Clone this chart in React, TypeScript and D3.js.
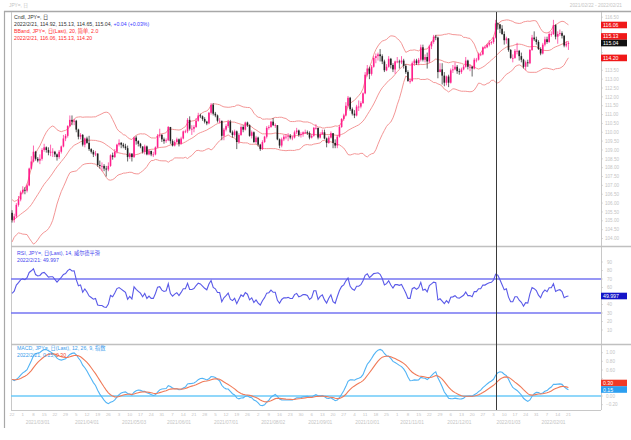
import React from "react";
import * as d3 from "d3";

// ---- data (USD/JPY daily) ----
// closes before the first visible bar, used only to warm up the indicators
const priorCloses = [
  104.7, 104.5, 104.5, 103.5, 103.4, 105.3, 105.3, 105.4, 105.1, 104.6, 104.6, 104.2, 103.8, 103.8, 103.8,
  104.6, 104.5, 104.4, 104.3, 104.1, 104.3,
  104.3, 104.4, 103.9, 104.2, 104.0, 104.2, 104.2, 104.2, 104.0, 104.0, 103.7, 103.5, 103.1, 103.3, 103.3,
  103.6, 103.6, 103.6, 103.6, 103.8, 103.5, 103.2, 103.2,
  103.1, 102.7, 103.0, 103.8, 103.9, 104.2, 103.8, 103.9, 103.9, 103.9, 103.7, 103.9, 103.5, 103.5, 103.8,
  103.8, 103.6, 104.1, 104.2, 104.7,
  104.9, 105.0, 105.0, 105.6, 105.4, 105.2, 104.6, 104.6, 104.7, 104.9, 105.4, 106.0, 105.9, 105.7, 105.45,
];

const closes = [
  105.05, 105.25, 105.9, 106.2, 106.6,
  106.75, 106.7, 107.0, 107.95, 108.35, 108.9, 108.5, 108.4, 108.5, 109.0, 109.15, 109.0, 108.85, 108.9, 108.9,
  108.75, 108.6, 108.9, 109.2, 109.65, 109.8, 110.35, 110.7,
  110.6, 110.65, 110.15, 109.75, 109.85, 109.3, 109.65, 109.4, 109.05, 108.9, 108.75, 108.8, 108.15, 108.1,
  108.1, 107.95, 107.9, 108.1, 108.7, 108.6, 108.9, 109.3,
  109.4, 109.3, 109.2, 109.1, 108.6, 108.8, 108.6, 109.7, 109.5, 109.35, 109.2, 108.9, 109.2, 108.75, 108.95,
  108.75, 108.75, 109.15, 109.8, 109.85, 109.6,
  109.5, 109.55, 110.3, 109.5, 109.25, 109.45, 109.6, 109.35, 109.65, 110.05, 110.05, 110.7, 110.2, 110.2,
  110.3, 110.65, 110.95, 110.9, 110.75, 110.6, 110.5, 111.1,
  111.55, 111.05, 110.95, 110.65, 110.65, 109.8, 110.15, 110.35, 110.6, 110.0, 109.85, 110.05, 109.45, 109.85,
  110.3, 110.15, 110.55, 110.4, 109.8, 110.0, 109.45, 109.7,
  109.3, 109.05, 109.45, 109.75, 110.25, 110.3, 110.6, 110.4, 110.4, 109.6, 109.25, 109.6, 109.75, 109.75,
  109.8, 109.7, 109.7, 110.0, 110.1, 109.85, 109.9, 110.0,
  110.0, 109.95, 109.7, 109.8, 110.25, 110.25, 109.7, 109.9, 110.0, 109.65, 109.4, 109.7, 109.95, 109.4,
  109.25, 109.75, 110.3, 110.75, 110.95, 111.5, 111.95, 111.3,
  111.05, 110.95, 111.45, 111.45, 111.65, 112.2, 113.25, 113.6, 113.3, 113.7, 114.2, 114.3, 114.4, 114.3,
  114.0, 113.5, 113.7, 114.15, 113.8, 113.55, 114.0,
  114.0, 113.95, 114.05, 113.75, 113.4, 112.9, 112.9, 113.9, 114.05, 113.9, 114.1, 114.8, 114.1, 114.25,
  114.0, 114.85, 115.1, 115.4, 115.35, 113.4, 113.55, 113.2,
  112.8, 113.15, 112.8, 113.5, 113.55, 113.7, 113.45, 113.4, 113.55, 113.7, 114.05, 113.7, 113.7, 113.6,
  114.1, 114.1, 114.4, 114.4, 114.8, 114.8, 114.95, 115.05, 115.1,
  115.35, 116.15, 116.1, 115.85, 115.55, 115.2, 115.3, 114.65, 114.2, 114.2, 114.6, 114.6, 114.3, 114.1,
  113.7, 113.95, 113.9, 114.65, 115.35, 115.25, 115.1,
  114.7, 114.45, 114.95, 115.25, 115.1, 115.55, 115.55, 116.05, 115.4, 115.55, 115.6, 115.45, 114.9, 115.0, 115.04,
];

const highs = [
  105.6, 105.4, 106.0, 106.4, 106.7,
  106.95, 106.9, 107.1, 108.0, 108.65, 109.25, 108.95, 108.6, 108.75, 109.1, 109.35, 109.2, 109.15, 109.3, 109.1,
  108.95, 108.8, 109.0, 109.25, 109.85, 109.9, 110.4, 110.95,
  110.95, 110.75, 110.7, 110.2, 109.95, 109.9, 109.7, 109.75, 109.8, 109.1, 109.0, 108.95, 108.8, 108.4,
  108.3, 108.2, 108.1, 108.3, 108.75, 108.85, 109.05, 109.35,
  109.6, 109.45, 109.4, 109.35, 109.25, 108.85, 108.8, 109.75, 109.8, 109.55, 109.4, 109.2, 109.3, 109.25, 109.05,
  108.95, 108.9, 109.2, 109.9, 110.2, 109.9,
  109.7, 109.65, 110.35, 110.3, 109.6, 109.55, 109.7, 109.65, 109.75, 110.1, 110.15, 110.8, 110.9, 110.4,
  110.4, 110.8, 111.1, 111.05, 110.95, 110.85, 110.65, 111.15,
  111.65, 111.65, 111.15, 111.0, 110.8, 110.65, 110.25, 110.45, 110.7, 110.7, 110.1, 110.15, 110.1, 109.95,
  110.4, 110.4, 110.6, 110.6, 110.45, 110.1, 110.05, 109.8,
  109.75, 109.35, 109.55, 109.8, 110.35, 110.4, 110.65, 110.8, 110.5, 110.4, 109.65, 109.7, 109.85, 109.9,
  109.95, 109.9, 109.8, 110.1, 110.25, 110.15, 110.0, 110.05,
  110.15, 110.1, 110.05, 109.9, 110.3, 110.45, 110.25, 110.0, 110.15, 110.15, 109.7, 109.8, 110.05, 109.95,
  109.6, 109.85, 110.4, 110.8, 111.05, 111.7, 112.05, 112.0,
  111.4, 111.25, 111.55, 111.8, 111.75, 112.25, 113.4, 113.8, 113.7, 113.8, 114.3, 114.45, 114.5, 114.7,
  114.4, 114.1, 113.85, 114.3, 114.2, 113.9, 114.05,
  114.25, 114.1, 114.3, 114.15, 113.85, 113.5, 113.05, 114.0, 114.15, 114.15, 114.2, 114.95, 114.95, 114.4,
  114.5, 114.95, 115.15, 115.5, 115.5, 115.4, 113.9, 113.9,
  113.4, 113.2, 113.25, 113.6, 113.8, 113.95, 113.8, 113.6, 113.65, 113.8, 114.25, 114.1, 113.85, 113.75,
  114.2, 114.2, 114.5, 114.5, 114.85, 114.9, 115.0, 115.2, 115.15,
  115.4, 116.35, 116.2, 116.1, 116.05, 115.7, 115.4, 115.3, 114.7, 114.4, 114.7, 115.05, 114.65, 114.5,
  114.15, 114.05, 114.1, 114.7, 115.5, 115.7, 115.4,
  115.2, 114.8, 115.05, 115.4, 115.4, 115.65, 115.7, 116.35, 116.1, 115.7, 115.8, 115.7, 115.5, 115.15, 115.13,
];

const lows = [
  104.9, 104.9, 105.15, 105.8, 106.1,
  106.5, 106.5, 106.6, 106.95, 107.9, 108.3, 108.4, 108.3, 108.2, 108.4, 108.9, 108.85, 108.7, 108.65, 108.6,
  108.6, 108.4, 108.5, 108.8, 109.15, 109.5, 109.7, 110.3,
  110.4, 110.4, 110.0, 109.6, 109.6, 109.2, 109.15, 109.35, 108.95, 108.8, 108.6, 108.65, 108.05, 107.95,
  107.8, 107.8, 107.5, 107.8, 108.05, 108.45, 108.55, 108.8,
  109.2, 109.1, 109.1, 109.0, 108.35, 108.5, 108.35, 108.55, 109.3, 109.2, 109.1, 108.8, 108.75, 108.7, 108.7,
  108.65, 108.6, 108.7, 109.1, 109.7, 109.45,
  109.35, 109.4, 109.5, 109.35, 109.2, 109.2, 109.4, 109.2, 109.3, 109.6, 109.95, 109.95, 110.1, 109.85,
  110.0, 110.25, 110.6, 110.8, 110.65, 110.5, 110.4, 110.45,
  111.0, 110.95, 110.85, 110.55, 110.5, 109.55, 109.55, 110.05, 110.25, 109.95, 109.7, 109.75, 109.05, 109.35,
  109.8, 110.0, 110.1, 110.3, 109.75, 109.65, 109.4, 109.35,
  109.2, 108.95, 109.0, 109.4, 109.65, 110.15, 110.25, 110.35, 110.25, 109.55, 109.1, 109.15, 109.5, 109.6,
  109.5, 109.6, 109.55, 109.65, 109.9, 109.75, 109.7, 109.75,
  109.9, 109.85, 109.6, 109.65, 109.75, 110.15, 109.6, 109.65, 109.85, 109.6, 109.15, 109.35, 109.65, 109.1,
  109.1, 109.1, 109.7, 110.25, 110.65, 110.9, 111.4, 111.2,
  110.95, 110.8, 110.9, 111.2, 111.35, 111.6, 112.15, 113.15, 113.0, 113.2, 113.65, 113.9, 114.05, 114.0,
  113.85, 113.4, 113.45, 113.65, 113.6, 113.4, 113.3,
  113.9, 113.6, 113.85, 113.6, 113.3, 112.85, 112.75, 112.85, 113.75, 113.8, 113.8, 114.0, 114.0, 113.95,
  113.6, 113.9, 114.7, 115.0, 115.2, 113.05, 113.4, 112.7,
  112.6, 112.65, 112.55, 112.75, 113.35, 113.5, 113.3, 113.25, 113.3, 113.5, 113.65, 113.55, 113.45, 113.15,
  113.55, 113.95, 114.05, 114.3, 114.35, 114.7, 114.75, 114.85, 114.95,
  115.0, 115.3, 115.8, 115.6, 115.5, 114.95, 115.0, 114.55, 114.15, 113.95, 114.15, 114.4, 114.05, 113.95,
  113.6, 113.5, 113.7, 113.85, 114.6, 115.15, 114.95,
  114.65, 114.35, 114.4, 114.85, 115.0, 115.05, 115.4, 115.5, 115.25, 115.0, 115.45, 115.3, 114.8, 114.8, 114.65,
];

const firstDay = new Date(2021, 1, 22);
const lastDay = new Date(2022, 1, 21);
const cursorDay = new Date(2022, 0, 4);

const candleTitle = "Cndl, JPY=, 日";
const candleValues = "2022/2/21, 114.92, 115.13, 114.65, 115.04, ";
const candleChange = "+0.04 (+0.03%)";
const bandTitle = "BBand, JPY=, 日(Last), 20, 简单, 2.0";
const bandValues = "2022/2/21, 116.06, 115.13, 114.20";
const rsiTitle = "RSI, JPY=, 日(Last), 14, 威尔德平滑";
const rsiValues = "2022/2/21: 49.997";
const macdTitle = "MACD, JPY=, 日(Last), 12, 26, 9, 指数";
const macdValues = "2022/2/21, 0.15, ";
const signalValue = "0.30";

const bandLast = [116.06, 115.13, 114.2];
const closeLast = 115.04;
const rsiLast = 49.997;
const macdLast = 0.15;
const signalLast = 0.3;

const priceTicks = d3.range(104, 116.51, 0.5);
const rsiTicks = [10, 20, 30, 40, 50, 60, 70, 80, 90];
const macdTicks = [-0.2, 0, 0.2, 0.4, 0.6, 0.8, 1.0];
const rsiLevels = [70, 30];

// ---- layout ----
const W = 631;
const H = 440;
const PL = 11;
const PR = 601;
const main = { top: 12, bottom: 245 };
const rsiP = { top: 248, bottom: 343 };
const macdP = { top: 346, bottom: 410 };
const FONT = "'Liberation Sans', Arial, 'Noto Sans CJK SC', sans-serif";

const UP = "#ff1f8c";
const DOWN = "#222222";
const BAND = "#f28a8a";
const RSI_C = "#5a5ae8";
const MACD_C = "#52b4f5";
const SIG_C = "#f07a58";

function ema(arr: number[], n: number) {
  const k = 2 / (n + 1);
  const out: number[] = [];
  arr.forEach((v, i) => out.push(i === 0 ? v : v * k + out[i - 1] * (1 - k)));
  return out;
}

function computeAll() {
  const P = priorCloses.length;
  const all = priorCloses.concat(closes);
  const opens = closes.map((c, i) => (i === 0 ? priorCloses[P - 1] : closes[i - 1]));
  const bb = closes.map((_, i) => {
    const j = P + i;
    const w = all.slice(j - 19, j + 1);
    const m = d3.mean(w) as number;
    const sd = Math.sqrt(d3.mean(w, (v) => (v - m) * (v - m)) as number);
    return { m, u: m + 2 * sd, l: m - 2 * sd };
  });
  const rsiAll: number[] = [NaN];
  let ag = 0;
  let al = 0;
  for (let j = 1; j < all.length; j++) {
    const ch = all[j] - all[j - 1];
    const g = Math.max(ch, 0);
    const l = Math.max(-ch, 0);
    if (j <= 14) {
      ag += g / 14;
      al += l / 14;
    } else {
      ag = (ag * 13 + g) / 14;
      al = (al * 13 + l) / 14;
    }
    rsiAll[j] = j >= 14 ? (al === 0 ? 100 : 100 - 100 / (1 + ag / al)) : NaN;
  }
  const e12 = ema(all, 12);
  const e26 = ema(all, 26);
  const macdAll = all.map((_, i) => e12[i] - e26[i]);
  const sigAll = ema(macdAll, 9);
  return {
    opens,
    bb,
    rsi: rsiAll.slice(P),
    macd: macdAll.slice(P),
    sig: sigAll.slice(P),
  };
}

function Box({ y, fill, text, color = "#fff" }: { y: number; fill: string; text: string; color?: string }) {
  return (
    <g>
      <rect x={PR} y={y - 3.3} width={26} height={6.6} fill={fill} />
      <text x={PR + 2} y={y + 2} fontSize={5.2} fill={color} fontFamily={FONT}>
        {text}
      </text>
    </g>
  );
}

export default function App() {
  const { opens, bb, rsi, macd, sig } = React.useMemo(computeAll, []);
  const dates = d3.timeDay
    .range(firstDay, d3.timeDay.offset(lastDay, 1))
    .filter((d) => d.getDay() % 6 !== 0);
  const idx = d3.range(closes.length);

  const x = d3.scaleBand<number>().domain(idx).range([PL, 569.5]);
  const bw = x.bandwidth();
  const cx = (i: number) => (x(i) as number) + bw / 2;

  const y = d3.scaleLinear().domain([104, 116.5]).range([238.5, 17.2]);
  const yR = d3.scaleLinear().domain([30, 70]).range([313, 279]);
  const yM = d3.scaleLinear().domain([0, 0.3]).range([396, 383]);

  const lineP = (f: (i: number) => number) => d3.line<number>().x(cx).y(f)(idx) as string;
  const cursorIdx = dates.findIndex((d) => +d === +cursorDay);
  const cursorX = Math.round(cx(cursorIdx)) + 0.5;

  // price boxes with simple collision avoidance around the close label
  const yc = y(closeLast);
  const bandBoxes = bandLast.map((v) => {
    let yy = y(v);
    if (Math.abs(yy - yc) < 6.6) yy = yy < yc ? yc - 6.6 : yc + 6.6;
    return { v, yy };
  });
  const boxYs = [yc, ...bandBoxes.map((b) => b.yy), yR(rsiLast), yM(signalLast), yM(macdLast)];
  const free = (yy: number) => boxYs.every((b) => Math.abs(b - yy) > 5.6);

  const fmtDay = d3.timeFormat("%-d");
  const fmtMonth = d3.timeFormat("%Y/%m/%d");
  const mondays = idx.filter((i) => dates[i].getDay() === 1);
  const monthStarts = idx.filter((i) => i > 0 && dates[i].getMonth() !== dates[i - 1].getMonth());

  const faint = "#c4c4c4";

  return (
    <svg
      width={W}
      height={H}
      style={{ position: "absolute", left: 0, top: 0, background: "#fff" }}
      fontFamily={FONT}
    >
      <defs>
        <clipPath id="cMain">
          <rect x={PL} y={main.top} width={PR - PL} height={main.bottom - main.top} />
        </clipPath>
        <clipPath id="cRsi">
          <rect x={PL} y={rsiP.top} width={PR - PL} height={rsiP.bottom - rsiP.top} />
        </clipPath>
        <clipPath id="cMacd">
          <rect x={PL} y={macdP.top} width={PR - PL} height={macdP.bottom - macdP.top} />
        </clipPath>
      </defs>

      {/* header */}
      <text x={9} y={7} fontSize={4.8} fill={faint}>JPY=, 日</text>
      <text x={622} y={7} fontSize={4.8} fill={faint} textAnchor="end">2021/02/22 - 2022/02/21</text>

      {/* frame */}
      <line x1={4} x2={W} y1={11.5} y2={11.5} stroke="#a8a8a8" strokeWidth={1.5} />
      <line x1={4.5} x2={4.5} y1={11} y2={428} stroke="#a8a8a8" strokeWidth={1.2} />
      <line x1={PL + 0.5} x2={PL + 0.5} y1={12} y2={410} stroke="#c8c8c8" />
      <line x1={PR + 0.5} x2={PR + 0.5} y1={12} y2={410} stroke="#c8c8c8" />
      <line x1={PL} x2={W} y1={246.5} y2={246.5} stroke="#c0c0c0" strokeWidth={1.6} />
      <line x1={PL} x2={W} y1={344.5} y2={344.5} stroke="#c0c0c0" strokeWidth={1.6} />
      <line x1={PL} x2={PR} y1={410.5} y2={410.5} stroke="#c8c8c8" />

      {/* right axis ticks */}
      {priceTicks.map((t) => (
        <g key={"p" + t}>
          <line x1={PR} x2={PR + 2} y1={y(t)} y2={y(t)} stroke={faint} strokeWidth={0.6} />
          {free(y(t)) && (
            <text x={PR + 4} y={y(t) + 1.7} fontSize={4.6} fill={faint}>
              {d3.format(".2f")(t)}
            </text>
          )}
        </g>
      ))}
      {rsiTicks.map((t) => (
        <g key={"r" + t}>
          <line x1={PR} x2={PR + 2} y1={yR(t)} y2={yR(t)} stroke={faint} strokeWidth={0.6} />
          {free(yR(t)) && (
            <text x={PR + 6} y={yR(t) + 1.7} fontSize={4.6} fill={faint}>
              {t}
            </text>
          )}
        </g>
      ))}
      {macdTicks.map((t) => (
        <g key={"m" + t}>
          <line x1={PR} x2={PR + 2} y1={yM(t)} y2={yM(t)} stroke={faint} strokeWidth={0.6} />
          {free(yM(t)) && (
            <text x={PR + 5} y={yM(t) + 1.7} fontSize={4.6} fill={faint}>
              {d3.format(".2f")(t)}
            </text>
          )}
        </g>
      ))}

      {/* bottom axis */}
      {mondays.map((i) => (
        <text key={"d" + i} x={cx(i)} y={416} fontSize={4.4} fill={faint} textAnchor="middle">
          {fmtDay(dates[i])}
        </text>
      ))}
      {monthStarts.map((i) => (
        <text key={"mo" + i} x={cx(i) + 3} y={423.5} fontSize={4.8} fill={faint}>
          {fmtMonth(dates[i])}
        </text>
      ))}

      {/* main panel */}
      <g clipPath="url(#cMain)">
        <path d={lineP((i) => y(bb[i].u))} fill="none" stroke={BAND} strokeWidth={0.9} />
        <path d={lineP((i) => y(bb[i].m))} fill="none" stroke={BAND} strokeWidth={0.9} />
        <path d={lineP((i) => y(bb[i].l))} fill="none" stroke={BAND} strokeWidth={0.9} />
        {idx.map((i) => {
          const o = opens[i];
          const c = closes[i];
          const col = c >= o ? UP : DOWN;
          const top = y(Math.max(o, c));
          const h = Math.max(0.8, y(Math.min(o, c)) - top);
          return (
            <g key={i}>
              <line x1={cx(i)} x2={cx(i)} y1={y(highs[i])} y2={y(lows[i])} stroke={col} strokeWidth={0.7} />
              <rect x={cx(i) - 0.8} y={top} width={1.6} height={h} fill={col} />
            </g>
          );
        })}
      </g>

      {/* RSI panel */}
      <g clipPath="url(#cRsi)">
        {rsiLevels.map((lv) => (
          <line key={lv} x1={PL} x2={PR} y1={yR(lv)} y2={yR(lv)} stroke="#7474f2" strokeWidth={1.4} />
        ))}
        <path d={lineP((i) => yR(rsi[i]))} fill="none" stroke={RSI_C} strokeWidth={1.1} />
      </g>

      {/* MACD panel */}
      <g clipPath="url(#cMacd)">
        <line x1={PL} x2={PR} y1={yM(0)} y2={yM(0)} stroke="#6ccaf8" strokeWidth={1.3} />
        <path d={lineP((i) => yM(macd[i]))} fill="none" stroke={MACD_C} strokeWidth={1.1} />
        <path d={lineP((i) => yM(sig[i]))} fill="none" stroke={SIG_C} strokeWidth={1.1} />
      </g>

      {/* cursor line */}
      <line x1={cursorX} x2={cursorX} y1={12} y2={410} stroke="#3a3a3a" strokeWidth={1} />

      {/* legends */}
      <text x={14} y={19} fontSize={5.2} fill="#333">{candleTitle}</text>
      <text x={14} y={26} fontSize={5.2} fill="#333">
        {candleValues}
        <tspan fill="#3a3aff">{candleChange}</tspan>
      </text>
      <text x={14} y={33} fontSize={5.2} fill="#ff2a2a">{bandTitle}</text>
      <text x={14} y={40} fontSize={5.2} fill="#ff2a2a">{bandValues}</text>

      <text x={17} y={255} fontSize={5.2} fill="#4646ee">{rsiTitle}</text>
      <text x={17} y={261.5} fontSize={5.2} fill="#4646ee">{rsiValues}</text>

      <text x={17} y={350} fontSize={5.2} fill="#3a9cec">{macdTitle}</text>
      <text x={17} y={357} fontSize={5.2} fill="#3a9cec">
        {macdValues}
        <tspan fill="#f04a30">{signalValue}</tspan>
      </text>

      {/* value boxes */}
      {bandBoxes.map((b) => (
        <Box key={b.v} y={b.yy} fill="#f01818" text={d3.format(".2f")(b.v)} />
      ))}
      <Box y={yc} fill="#111" text={d3.format(".2f")(closeLast)} />
      <Box y={yR(rsiLast)} fill="#1414c8" text={d3.format(".3f")(rsiLast)} />
      <Box y={yM(signalLast)} fill="#f03a26" text={d3.format(".2f")(signalLast)} />
      <Box y={yM(macdLast)} fill="#2c9ff0" text={d3.format(".2f")(macdLast)} />
    </svg>
  );
}
